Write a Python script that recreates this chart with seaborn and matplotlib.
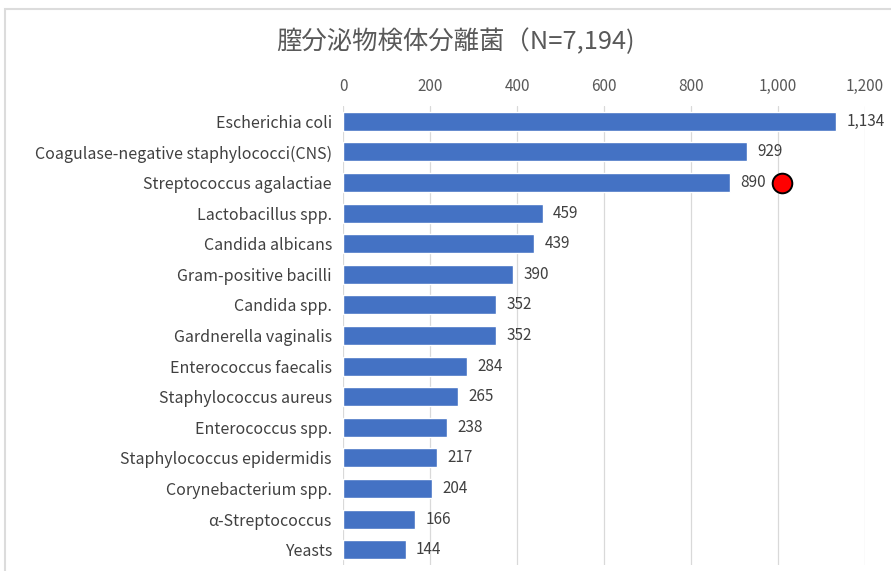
import pandas as pd
import seaborn as sns
import matplotlib.pyplot as plt
from matplotlib.patches import Rectangle

# data
species = [
    'Escherichia coli',
    'Coagulase-negative staphylococci(CNS)',
    'Streptococcus agalactiae',
    'Lactobacillus spp.',
    'Candida albicans',
    'Gram-positive bacilli',
    'Candida spp.',
    'Gardnerella vaginalis',
    'Enterococcus faecalis',
    'Staphylococcus aureus',
    'Enterococcus spp.',
    'Staphylococcus epidermidis',
    'Corynebacterium spp.',
    'α-Streptococcus',
    'Yeasts',
]
counts = [1134, 929, 890, 459, 439, 390, 352, 352, 284, 265, 238, 217, 204, 166, 144]
xticks = [0, 200, 400, 600, 800, 1000, 1200]
marker_species = 'Streptococcus agalactiae'
marker_x = 1010

title = '膣分泌物検体分離菌（N=7,194)'

df = pd.DataFrame({'species': species, 'count': counts})

sns.set_theme(style='white')
plt.rcParams['font.family'] = ['Noto Sans CJK JP', 'DejaVu Sans']

fig = plt.figure(figsize=(8.91, 5.71), dpi=100)
ax = fig.add_axes([0.385, 0.0105, 0.5859, 0.8038])

sns.barplot(data=df, y='species', x='count', order=species, color='#4472c4',
            width=0.62, saturation=1, ax=ax, zorder=3)

ax.set_xlim(0, 1200)
ax.set_ylim(len(species) - 0.5, -0.5)
ax.set_xticks(xticks)
ax.set_xticklabels([f'{v:,}' for v in xticks])
ax.xaxis.tick_top()
ax.tick_params(axis='x', length=0, labelsize=11, labelcolor='#595959', pad=8)
ax.tick_params(axis='y', length=0, labelsize=11.5, labelcolor='#404040', pad=8)
ax.set_xlabel('')
ax.set_ylabel('')
ax.grid(axis='x', color='#d9d9d9', linewidth=0.9, zorder=0)
for s in ax.spines.values():
    s.set_visible(False)

for i, v in enumerate(counts):
    ax.text(v + 24, i, f'{v:,}', va='center', ha='left', fontsize=11,
            color='#404040', zorder=4)

# red marker next to S. agalactiae
ax.scatter([marker_x], [species.index(marker_species)], s=200, color='#ff0000',
           edgecolor='black', linewidth=1.4, zorder=5, clip_on=False)

fig.text(0.511, 0.927, title, ha='center', va='center', fontsize=18.3, color='#595959')

fig.patches.append(Rectangle((5 / 891, -0.05), 1.1, 1 - 9 / 571 + 0.05,
                             transform=fig.transFigure, fill=False,
                             edgecolor='#dcdcdc', linewidth=1.5))

fig.savefig('out.png', dpi=100)
